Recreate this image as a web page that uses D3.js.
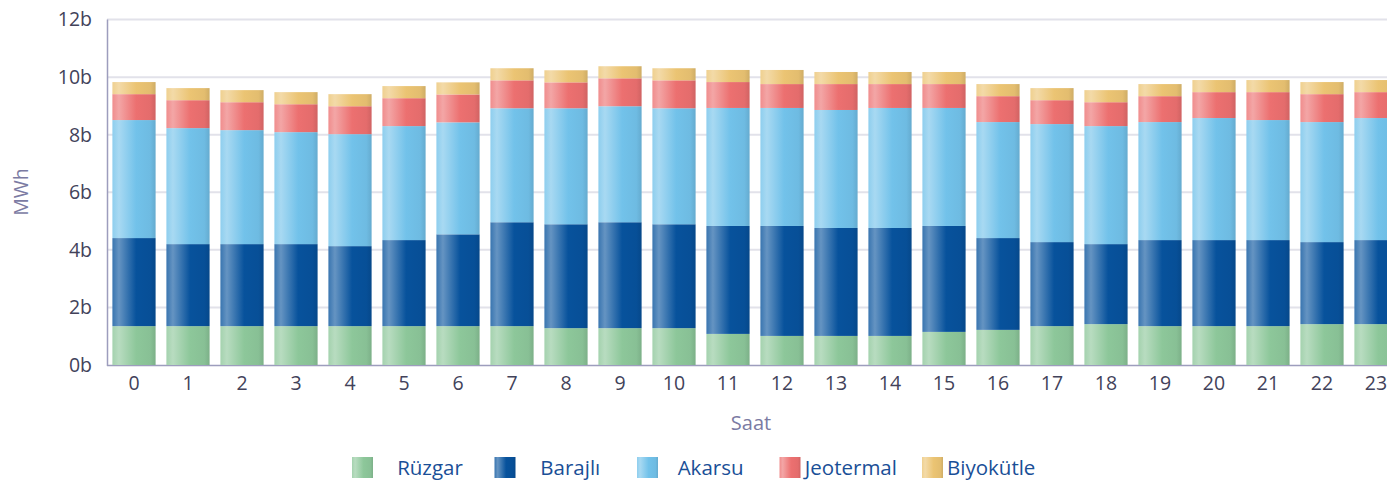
<!DOCTYPE html>
<html>
<head>
<meta charset="utf-8">
<script src="https://cdn.jsdelivr.net/npm/d3@7"></script>
<style>
  body { margin: 0; background: #fff; }
  text { font-family: "Open Sans", "Noto Sans", sans-serif; }
</style>
</head>
<body>
<script>
var width = 1387;
var height = 481;

var hours = d3.range(24);
var series = ["Rüzgar", "Barajlı", "Akarsu", "Jeotermal", "Biyokütle"];
var colors = ["#8dc79a", "#07529c", "#72c2ea", "#ec7070", "#ebc473"];

// MWh per hour, by source
var ruzgar    = [1350,1350,1350,1350,1350,1350,1350,1350,1280,1280,1280,1080,1010,1010,1010,1150,1220,1350,1420,1350,1350,1350,1420,1420];
var barajli   = [3060,2850,2850,2850,2780,2990,3190,3610,3610,3680,3610,3750,3820,3750,3750,3680,3190,2920,2780,2990,2990,2990,2850,2920];
var akarsu    = [4100,4030,3960,3890,3890,3960,3890,3960,4030,4030,4030,4100,4100,4100,4170,4100,4030,4100,4100,4100,4240,4170,4170,4240];
var jeotermal = [ 900, 970, 970, 970, 970, 970, 970, 970, 900, 970, 970, 900, 830, 900, 830, 830, 900, 830, 830, 900, 900, 970, 970, 900];
var biyokutle = [ 420, 420, 420, 420, 420, 420, 420, 420, 420, 420, 420, 420, 490, 420, 420, 420, 420, 420, 420, 420, 420, 420, 420, 420];
var yTicks = [0, 2000, 4000, 6000, 8000, 10000, 12000];

var rows = hours.map(function(h, i) {
    return {
        hour: h,
        "Rüzgar": ruzgar[i],
        "Barajlı": barajli[i],
        "Akarsu": akarsu[i],
        "Jeotermal": jeotermal[i],
        "Biyokütle": biyokutle[i]
    };
});

var svg = d3.select("body")
    .append("svg")
    .attr("width", width)
    .attr("height", height);

var x = d3.scaleBand()
    .domain(hours)
    .range([107, 1403])
    .paddingInner(0.2)
    .paddingOuter(0.1);

var y = d3.scaleLinear()
    .domain([0, 12000])
    .range([365, 19.6]);

// gradients for the glossy bars
var defs = svg.append("defs");
colors.forEach(function(c, i) {
    var g = defs.append("linearGradient")
        .attr("id", "grad" + i)
        .attr("x1", "0%").attr("x2", "100%")
        .attr("y1", "0%").attr("y2", "0%");
    var base = d3.color(c);
    g.append("stop").attr("offset", "0%").attr("stop-color", d3.interpolateRgb(c, "#fff")(0.2));
    g.append("stop").attr("offset", "15%").attr("stop-color", d3.interpolateRgb(c, "#fff")(0.38));
    g.append("stop").attr("offset", "55%").attr("stop-color", c);
    g.append("stop").attr("offset", "88%").attr("stop-color", base.darker(0.1));
    g.append("stop").attr("offset", "100%").attr("stop-color", base.darker(0.35));
});

// grid lines
svg.append("g")
    .selectAll("line")
    .data(yTicks.slice(1))
    .enter()
    .append("line")
    .attr("x1", 107)
    .attr("x2", width)
    .attr("y1", function(d) { return y(d); })
    .attr("y2", function(d) { return y(d); })
    .attr("stroke", "#e2e2ea")
    .attr("stroke-width", 2);

// bottom axis line
svg.append("line")
    .attr("x1", 107).attr("x2", width)
    .attr("y1", 365.5).attr("y2", 365.5)
    .attr("stroke", "#9d9dbd")
    .attr("stroke-width", 1.5);

var stack = d3.stack().keys(series);
var layers = stack(rows);

svg.append("g")
    .selectAll("g")
    .data(layers)
    .enter()
    .append("g")
    .attr("fill", function(d, i) { return "url(#grad" + i + ")"; })
    .selectAll("rect")
    .data(function(d) { return d; })
    .enter()
    .append("rect")
    .attr("x", function(d) { return x(d.data.hour); })
    .attr("width", x.bandwidth())
    .attr("y", function(d) { return y(d[1]); })
    .attr("height", function(d) { return y(d[0]) - y(d[1]); });

// y axis line
svg.append("line")
    .attr("x1", 107.5).attr("x2", 107.5)
    .attr("y1", 19.6).attr("y2", 366)
    .attr("stroke", "#9d9dbd")
    .attr("stroke-width", 1.5);

// y tick labels
svg.append("g")
    .selectAll("text")
    .data(yTicks)
    .enter()
    .append("text")
    .attr("x", 92)
    .attr("y", function(d) { return y(d); })
    .attr("dy", "0.35em")
    .attr("text-anchor", "end")
    .attr("font-size", "19.5px")
    .attr("fill", "#42425a")
    .text(function(d) { return (d / 1000) + "b"; });

// x tick labels
svg.append("g")
    .selectAll("text")
    .data(hours)
    .enter()
    .append("text")
    .attr("x", function(d) { return x(d) + x.bandwidth() / 2; })
    .attr("y", 383)
    .attr("dy", "0.35em")
    .attr("text-anchor", "middle")
    .attr("font-size", "19.5px")
    .attr("fill", "#42425a")
    .text(function(d) { return d; });

// axis titles
svg.append("text")
    .attr("transform", "translate(21,192) rotate(-90)")
    .attr("text-anchor", "middle")
    .attr("dy", "0.35em")
    .attr("font-size", "19.5px")
    .attr("fill", "#7b7ba3")
    .text("MWh");

svg.append("text")
    .attr("x", 751)
    .attr("y", 423)
    .attr("dy", "0.35em")
    .attr("text-anchor", "middle")
    .attr("font-size", "20px")
    .attr("fill", "#7b7ba3")
    .text("Saat");

// legend
var legend = svg.append("g");

legend.selectAll("rect")
    .data(series)
    .enter()
    .append("rect")
    .attr("x", function(d, i) { return 352 + i * 142.5; })
    .attr("y", 457)
    .attr("width", 21)
    .attr("height", 21)
    .attr("fill", function(d, i) { return "url(#grad" + i + ")"; });

legend.selectAll("text")
    .data(series)
    .enter()
    .append("text")
    .attr("x", function(d, i) { return 430 + i * 140.3; })
    .attr("y", 467.5)
    .attr("dy", "0.35em")
    .attr("text-anchor", "middle")
    .attr("font-size", "20.5px")
    .attr("fill", "#1a4f97")
    .text(function(d) { return d; });
</script>
</body>
</html>
